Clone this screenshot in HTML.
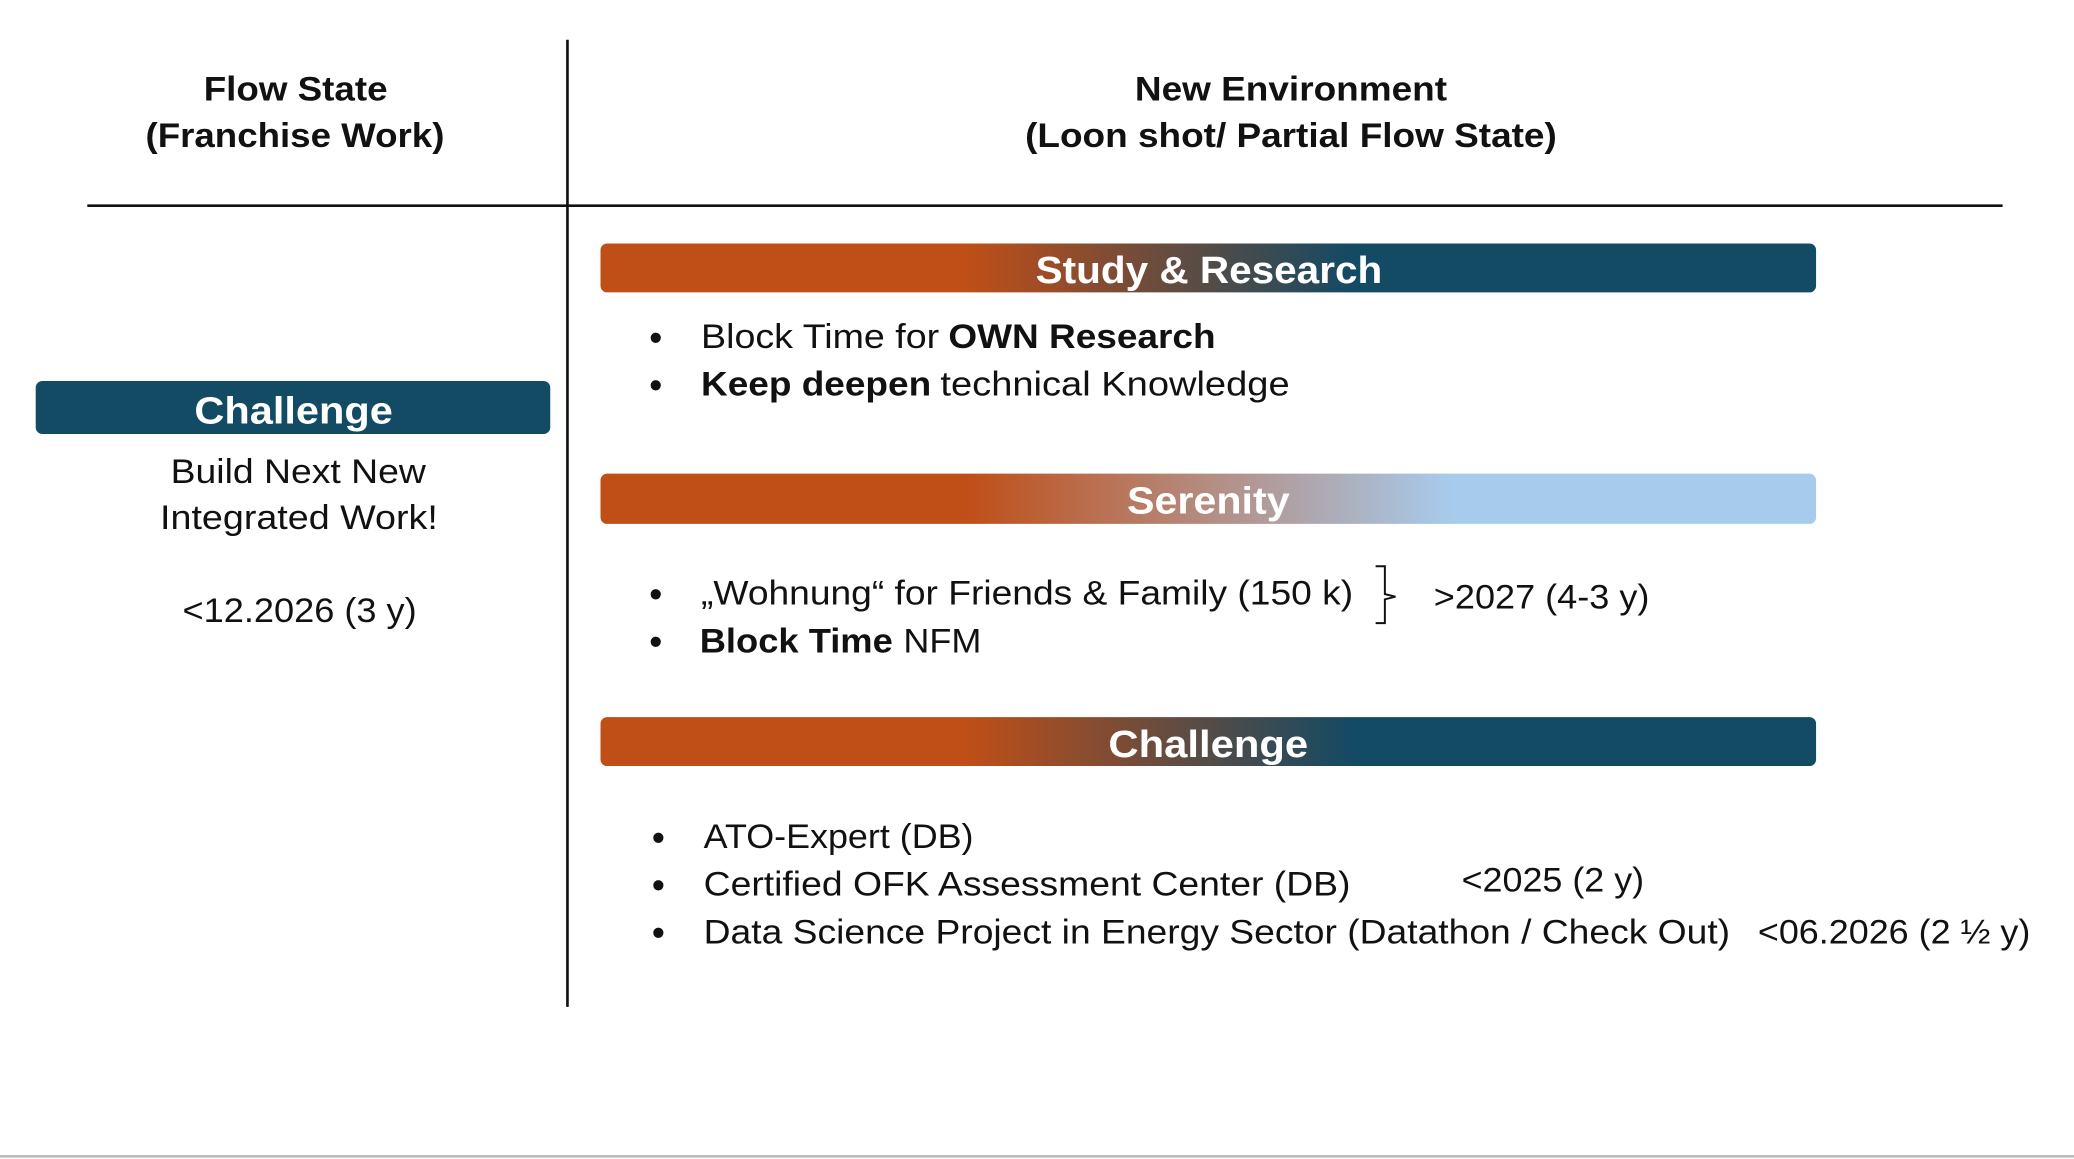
<!DOCTYPE html>
<html><head><meta charset="utf-8"><style>
html,body{margin:0;padding:0;background:#fff;width:2074px;height:1159px;overflow:hidden}
svg{display:block}
text{font-family:"Liberation Sans",sans-serif;fill:#111}
.b{font-weight:bold}
.w{fill:#fff;font-weight:bold}
.d{font-size:27px;font-weight:bold}
</style></head><body>
<svg width="2074" height="1159" viewBox="0 0 1568 876" preserveAspectRatio="none">
<defs>
<linearGradient id="g1" x1="0" x2="1"><stop offset="0.3" stop-color="#c04e17"/><stop offset="0.62" stop-color="#134a64"/></linearGradient>
<linearGradient id="g2" x1="0" x2="1"><stop offset="0.3" stop-color="#c04e17"/><stop offset="0.7" stop-color="#a7cbec"/></linearGradient>
</defs>
<line x1="429" y1="30" x2="429" y2="761" stroke="#111" stroke-width="2"/>
<line x1="66" y1="155.5" x2="1514" y2="155.5" stroke="#111" stroke-width="2"/>
<line x1="0" y1="874" x2="1568" y2="874" stroke="#bbb" stroke-width="2"/>

<text class="b" font-size="26" x="154" y="76" textLength="139" lengthAdjust="spacingAndGlyphs">Flow State</text>
<text class="b" font-size="26" x="110" y="111" textLength="226" lengthAdjust="spacingAndGlyphs">(Franchise Work)</text>
<text class="b" font-size="26" x="858" y="76" textLength="236" lengthAdjust="spacingAndGlyphs">New Environment</text>
<text class="b" font-size="26" x="775" y="111" textLength="402" lengthAdjust="spacingAndGlyphs">(Loon shot/ Partial Flow State)</text>

<rect x="27" y="288" width="389" height="40" rx="5" fill="#134a64"/>
<text class="w" font-size="29" x="147" y="320" textLength="150" lengthAdjust="spacingAndGlyphs">Challenge</text>
<text font-size="26" x="129" y="365" textLength="193" lengthAdjust="spacingAndGlyphs">Build Next New</text>
<text font-size="26" x="121" y="400" textLength="210" lengthAdjust="spacingAndGlyphs">Integrated Work!</text>
<text font-size="26" x="138" y="470" textLength="177" lengthAdjust="spacingAndGlyphs">&lt;12.2026 (3 y)</text>

<rect x="454" y="184" width="919" height="37" rx="5" fill="url(#g1)"/>
<text class="w" font-size="29" x="783" y="214" textLength="262" lengthAdjust="spacingAndGlyphs">Study &amp; Research</text>
<text class="d" x="491" y="264">•</text>
<text font-size="26" x="530" y="263" textLength="180" lengthAdjust="spacingAndGlyphs">Block Time for</text>
<text class="b" font-size="26" x="717" y="263" textLength="202" lengthAdjust="spacingAndGlyphs">OWN Research</text>
<text class="d" x="491" y="300">•</text>
<text class="b" font-size="26" x="530" y="299" textLength="174" lengthAdjust="spacingAndGlyphs">Keep deepen</text>
<text font-size="26" x="711" y="299" textLength="264" lengthAdjust="spacingAndGlyphs">technical Knowledge</text>

<rect x="454" y="358" width="919" height="38" rx="5" fill="url(#g2)"/>
<text class="w" font-size="29" x="852" y="388" textLength="123" lengthAdjust="spacingAndGlyphs">Serenity</text>
<text class="d" x="491" y="458">•</text>
<text font-size="26" x="530" y="457" textLength="493" lengthAdjust="spacingAndGlyphs">„Wohnung“ for Friends &amp; Family (150 k)</text>
<text class="d" x="491" y="494">•</text>
<text class="b" font-size="26" x="529" y="493" textLength="146" lengthAdjust="spacingAndGlyphs">Block Time</text>
<text font-size="26" x="683" y="493" textLength="59" lengthAdjust="spacingAndGlyphs">NFM</text>
<path d="M1040 428 H1047 V449 L1055 451 L1047 453 V471 H1040" fill="none" stroke="#111" stroke-width="1.5"/>
<text font-size="26" x="1084" y="460" textLength="163" lengthAdjust="spacingAndGlyphs">&gt;2027 (4-3 y)</text>

<rect x="454" y="542" width="919" height="37" rx="5" fill="url(#g1)"/>
<text class="w" font-size="29" x="838" y="572" textLength="151" lengthAdjust="spacingAndGlyphs">Challenge</text>
<text class="d" x="493" y="642">•</text>
<text font-size="26" x="532" y="641" textLength="204" lengthAdjust="spacingAndGlyphs">ATO-Expert (DB)</text>
<text class="d" x="493" y="678">•</text>
<text font-size="26" x="532" y="677" textLength="489" lengthAdjust="spacingAndGlyphs">Certified OFK Assessment Center (DB)</text>
<text class="d" x="493" y="714">•</text>
<text font-size="26" x="532" y="713" textLength="776" lengthAdjust="spacingAndGlyphs">Data Science Project in Energy Sector (Datathon / Check Out)</text>
<text font-size="26" x="1105" y="674" textLength="138" lengthAdjust="spacingAndGlyphs">&lt;2025 (2 y)</text>
<text font-size="26" x="1329" y="713" textLength="206" lengthAdjust="spacingAndGlyphs">&lt;06.2026 (2 ½ y)</text>
</svg>
</body></html>
